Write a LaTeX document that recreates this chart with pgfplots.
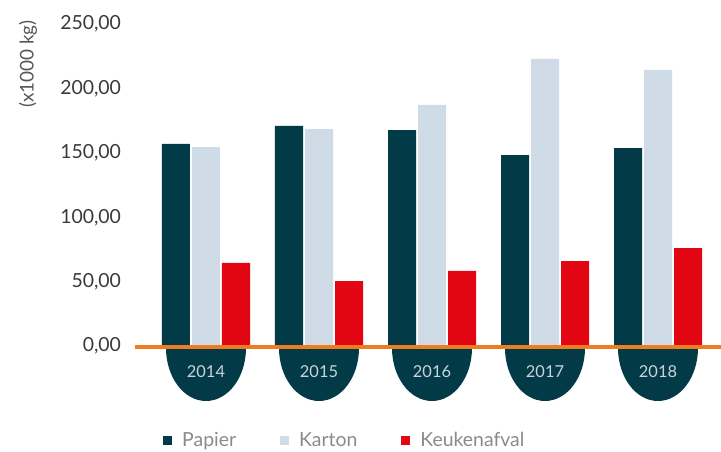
\documentclass[border=0pt]{standalone}
\usepackage{fontspec}
\setmainfont{Lato}
\usepackage{pgfplots}
\pgfplotsset{compat=1.18}
\usetikzlibrary{calc}

\definecolor{papier}{HTML}{023A47}
\definecolor{karton}{HTML}{CFDBE6}
\definecolor{keuken}{HTML}{E20613}
\definecolor{oranje}{HTML}{EE7D22}
\definecolor{tickgray}{HTML}{3A3A3A}
\definecolor{leggray}{HTML}{8A8A8A}
\definecolor{yeartext}{HTML}{C9D4DA}

\pgfplotsset{
  sq legend/.style={legend image code/.code={
      \fill[##1, draw=none] (0bp,-4.5bp) rectangle (9bp,4.5bp);
      \path (0bp,0bp) (17bp,0bp);}},
}

\begin{document}
\begin{tikzpicture}
% jaren 2014..2018 staan op x = 0..4
\begin{axis}[
    x=113bp, y=1.287bp,
    xmin=-0.628, xmax=4.558,
    ymin=0, ymax=250,
    ybar=2bp, bar width=28bp,
    clip=false,
    axis line style={draw=none},
    major tick length=0pt,
    xtick=\empty,
    ytick={0,50,...,250},
    scaled y ticks=false,
    yticklabel style={
        font=\fontsize{19.5}{20}\selectfont, text=tickgray,
        xshift=-10.5bp,
        /pgf/number format/fixed,
        /pgf/number format/fixed zerofill,
        /pgf/number format/precision=2,
        /pgf/number format/use comma,
        /pgf/number format/assume math mode=true},
    legend columns=3,
    legend style={
        at={(0.0478,-0.293)}, anchor=west,
        draw=none, fill=none, inner sep=0pt,
        font=\fontsize{19.5}{20}\selectfont, text=leggray,
        /tikz/every even column/.append style={column sep=42bp}},
]
\addplot[fill=papier, draw=none, sq legend] coordinates {
    (0,157.0) (1,171.0) (2,167.8) (3,148.4) (4,153.8)};
\addplot[fill=karton, draw=none, sq legend] coordinates {
    (0,154.6) (1,168.6) (2,187.3) (3,223.0) (4,214.5)};
\addplot[fill=keuken, draw=none, sq legend] coordinates {
    (0,64.5) (1,50.5) (2,58.3) (3,66.0) (4,76.1)};
\legend{Papier, Karton, Keukenafval}

% halve schijven met jaartallen
\fill[papier] (axis cs:0,0) ++(-40bp,-2bp) arc[start angle=180, end angle=360, x radius=40bp, y radius=53bp] -- cycle;
\fill[papier] (axis cs:1,0) ++(-40bp,-2bp) arc[start angle=180, end angle=360, x radius=40bp, y radius=53bp] -- cycle;
\fill[papier] (axis cs:2,0) ++(-40bp,-2bp) arc[start angle=180, end angle=360, x radius=40bp, y radius=53bp] -- cycle;
\fill[papier] (axis cs:3,0) ++(-40bp,-2bp) arc[start angle=180, end angle=360, x radius=40bp, y radius=53bp] -- cycle;
\fill[papier] (axis cs:4,0) ++(-40bp,-2bp) arc[start angle=180, end angle=360, x radius=40bp, y radius=53bp] -- cycle;
\node[text=yeartext, font=\fontsize{16.5}{17}\selectfont, yshift=-26bp] at (axis cs:0,0) {2014};
\node[text=yeartext, font=\fontsize{16.5}{17}\selectfont, yshift=-26bp] at (axis cs:1,0) {2015};
\node[text=yeartext, font=\fontsize{16.5}{17}\selectfont, yshift=-26bp] at (axis cs:2,0) {2016};
\node[text=yeartext, font=\fontsize{16.5}{17}\selectfont, yshift=-26bp] at (axis cs:3,0) {2017};
\node[text=yeartext, font=\fontsize{16.5}{17}\selectfont, yshift=-26bp] at (axis cs:4,0) {2018};

\draw[oranje, line width=4bp, yshift=-1bp] (rel axis cs:0,0) -- (rel axis cs:1,0);
\coordinate (o) at (axis cs:0,0);
\end{axis}
\node[rotate=90, text=tickgray!85, font=\fontsize{19}{20}\selectfont]
    at ($(o)+(-178bp,282bp)$) {(x1000 kg)};
\pgfresetboundingbox
\path[use as bounding box] ($(o)+(-206bp,346bp)$) rectangle ($(o)+(515bp,-106bp)$);
\end{tikzpicture}
\end{document}
